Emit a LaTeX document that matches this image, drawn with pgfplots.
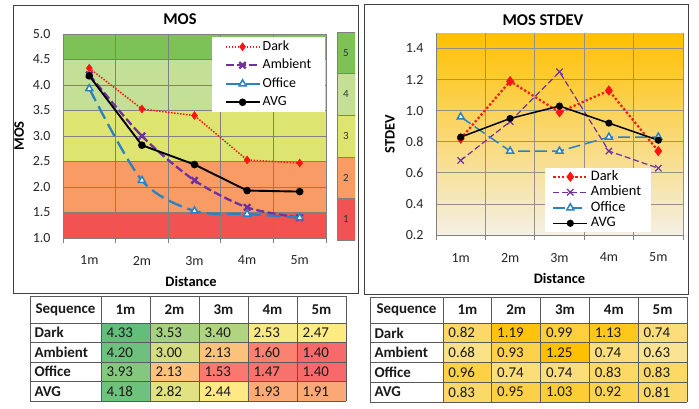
\documentclass[border=0pt]{standalone}
\usepackage{fontspec}
\setmainfont{Carlito}
\usepackage{pgfplots}
\usepackage{pgfplotstable}
\pgfplotsset{compat=1.18}

% MOS per distance (1m..5m) and sequence
\pgfplotstableread{
c dark ambient office avg
1 4.33 4.20 3.93 4.18
2 3.53 3.00 2.13 2.82
3 3.40 2.13 1.53 2.44
4 2.53 1.60 1.47 1.93
5 2.47 1.40 1.40 1.91
}\mosw

% MOS standard deviation per distance and sequence
\pgfplotstableread{
c dark ambient office avg
1 0.82 0.68 0.96 0.83
2 1.19 0.93 0.74 0.95
3 0.99 1.25 0.74 1.03
4 1.13 0.74 0.83 0.92
5 0.74 0.63 0.83 0.81
}\sdw

% the same values by cell for the tables (c = column, r = row: Dark, Ambient, Office, AVG)
\pgfplotstableread{
c r v
1 1 4.33
2 1 3.53
3 1 3.40
4 1 2.53
5 1 2.47
1 2 4.20
2 2 3.00
3 2 2.13
4 2 1.60
5 2 1.40
1 3 3.93
2 3 2.13
3 3 1.53
4 3 1.47
5 3 1.40
1 4 4.18
2 4 2.82
3 4 2.44
4 4 1.93
5 4 1.91
}\mostab

\pgfplotstableread{
c r v
1 1 0.82
2 1 1.19
3 1 0.99
4 1 1.13
5 1 0.74
1 2 0.68
2 2 0.93
3 2 1.25
4 2 0.74
5 2 0.63
1 3 0.96
2 3 0.74
3 3 0.74
4 3 0.83
5 3 0.83
1 4 0.83
2 4 0.95
3 4 1.03
4 4 0.92
5 4 0.81
}\sdtab

\definecolor{cDark}{RGB}{250,20,20}
\definecolor{cAmb}{RGB}{112,48,160}
\definecolor{cOff}{RGB}{40,130,195}
\definecolor{bandA}{RGB}{242,82,82}
\definecolor{bandB}{RGB}{248,155,100}
\definecolor{bandC}{RGB}{222,228,112}
\definecolor{bandD}{RGB}{196,224,150}
\definecolor{bandE}{RGB}{124,194,86}
\definecolor{gridc}{RGB}{128,128,128}
\definecolor{gridr}{RGB}{150,145,135}
\definecolor{framec}{RGB}{64,64,64}
\definecolor{tabline}{RGB}{90,90,90}

\pgfplotsset{
  chart/.style={
    scale only axis,
    xmin=0.5, xmax=5.5,
    xtick={1,2,3,4,5},
    xticklabels={1m,2m,3m,4m,5m},
    minor xtick={0.5,1.5,2.5,3.5,4.5,5.5},
    xminorgrids=true, xmajorgrids=false, ymajorgrids=true,
    axis lines*=left,
    axis line style={draw=gridc, line width=0.8pt, -},
    tick align=outside,
    major tick length=0pt,
    minor tick length=5bp,
    tick style={draw=gridc, line width=0.8pt},
    grid style={draw=gridc, line width=0.8pt},
    minor grid style={draw=gridc, line width=0.8pt},
    tick label style={font=\fontsize{14}{16}\selectfont, text=black!85},
    /pgf/number format/assume math mode=true,
    y tick label style={/pgf/number format/fixed, /pgf/number format/fixed zerofill,
      /pgf/number format/precision=1, xshift=-9bp},
    x tick label style={yshift=-14.5bp},
    label style={font=\bfseries\fontsize{14.5}{17}\selectfont},
    legend cell align=left,
    legend image code/.code={\draw[mark repeat=2,mark phase=2]
      plot coordinates {(0bp,0bp)(17bp,0bp)(34bp,0bp)};},
  },
  tablecells/.style={
    scale only axis, hide axis,
    xmin=0.5, xmax=5.5, ymin=0.5, ymax=4.5,
  },
  cellvalues/.style={
    draw=none, mark=none, nodes near coords, point meta=explicit symbolic,
    nodes near coords style={anchor=west, xshift=-22.5bp,
      font=\fontsize{15}{17}\selectfont, text=black!90},
  },
}

\begin{document}
\begin{tikzpicture}
\path[use as bounding box] (0bp,0bp) rectangle (699bp,-409bp);
\draw[framec, line width=1bp] (13bp,-5bp) rectangle (358bp,-293bp);
\draw[framec, line width=1bp] (364bp,-4bp) rectangle (688bp,-294bp);

% chart titles
\node[font=\bfseries\fontsize{16.5}{18}\selectfont] at (180bp,-19.5bp) {MOS};
\node[font=\bfseries\fontsize{16.5}{18}\selectfont] at (543bp,-20bp) {MOS STDEV};

% ---------------- MOS chart: score bands behind the plot ----------------
\begin{axis}[scale only axis, hide axis,
  at={(63bp,-238bp)}, anchor=south west, width=263bp, height=204bp,
  xmin=0.5, xmax=5.5, ymin=1, ymax=5]
\addplot[draw=none, fill=bandA] coordinates {(0.5,1)(5.5,1)(5.5,1.5)(0.5,1.5)} -- cycle;
\addplot[draw=none, fill=bandB] coordinates {(0.5,1.5)(5.5,1.5)(5.5,2.5)(0.5,2.5)} -- cycle;
\addplot[draw=none, fill=bandC] coordinates {(0.5,2.5)(5.5,2.5)(5.5,3.5)(0.5,3.5)} -- cycle;
\addplot[draw=none, fill=bandD] coordinates {(0.5,3.5)(5.5,3.5)(5.5,4.5)(0.5,4.5)} -- cycle;
\addplot[draw=none, fill=bandE] coordinates {(0.5,4.5)(5.5,4.5)(5.5,5)(0.5,5)} -- cycle;
\end{axis}

% ---------------- MOS chart ----------------
\begin{axis}[chart,
  at={(63bp,-238bp)}, anchor=south west, width=263bp, height=204bp,
  ymin=1, ymax=5, ytick={1,1.5,2,2.5,3,3.5,4,4.5,5},
  xlabel={Distance}, xlabel style={at={(0.487,-0.215)}, anchor=center},
  ylabel={MOS}, ylabel style={at={(-0.167,0.5)}, anchor=center},
  legend style={at={(0.998,0.985)}, anchor=north east, draw=none, fill=white,
    font=\fontsize{14}{16}\selectfont, inner xsep=12bp, inner ysep=3bp,
    row sep=5.5bp, nodes={inner ysep=0bp, inner xsep=2bp, text height=10bp, text depth=3bp}},
]
\addplot[cDark, line width=1.5bp, dash pattern=on 1.5bp off 1.5bp,
  mark=diamond*, mark size=3.2bp, mark options={solid, fill=cDark}]
  table[x=c, y=dark] {\mosw};
\addlegendentry{Dark}
\addplot[cAmb, line width=2.3bp, dash pattern=on 8bp off 3.5bp, smooth,
  mark=x, mark size=4.5bp, mark options={solid}]
  table[x=c, y=ambient] {\mosw};
\addlegendentry{Ambient}
\addplot[cOff, line width=2.3bp, dash pattern=on 14bp off 6bp, smooth,
  mark=triangle*, mark size=4bp, mark options={solid, fill=white, line width=1.5bp}]
  table[x=c, y=office] {\mosw};
\addlegendentry{Office}
\addplot[black, line width=1.9bp, mark=*, mark size=2.8bp]
  table[x=c, y=avg] {\mosw};
\addlegendentry{AVG}
\end{axis}

% score scale beside the MOS chart
\begin{axis}[at={(337bp,-240bp)}, anchor=south west, scale only axis, hide axis,
  width=18bp, height=208bp, xmin=0, xmax=1, ymin=0.5, ymax=5.5]
\addplot[fill=bandA, draw=gridc] coordinates {(0,0.5)(1,0.5)(1,1.5)(0,1.5)} -- cycle;
\addplot[fill=bandB, draw=gridc] coordinates {(0,1.5)(1,1.5)(1,2.5)(0,2.5)} -- cycle;
\addplot[fill=bandC, draw=gridc] coordinates {(0,2.5)(1,2.5)(1,3.5)(0,3.5)} -- cycle;
\addplot[fill=bandD, draw=gridc] coordinates {(0,3.5)(1,3.5)(1,4.5)(0,4.5)} -- cycle;
\addplot[fill=bandE, draw=gridc] coordinates {(0,4.5)(1,4.5)(1,5.5)(0,5.5)} -- cycle;
\node[font=\fontsize{11}{13}\selectfont, text=black!80] at (axis cs:0.5,1) {1};
\node[font=\fontsize{11}{13}\selectfont, text=black!80] at (axis cs:0.5,2) {2};
\node[font=\fontsize{11}{13}\selectfont, text=black!80] at (axis cs:0.5,3) {3};
\node[font=\fontsize{11}{13}\selectfont, text=black!80] at (axis cs:0.5,4) {4};
\node[font=\fontsize{11}{13}\selectfont, text=black!80] at (axis cs:0.5,5) {5};
\end{axis}

% ---------------- MOS STDEV chart ----------------
\begin{axis}[chart,
  at={(436bp,-235bp)}, anchor=south west, width=247bp, height=202bp,
  ymin=0.2, ymax=1.5, ytick={0.2,0.4,0.6,0.8,1.0,1.2,1.4},
  grid style={draw=gridr, line width=0.8pt},
  minor grid style={draw=gridr, line width=0.8pt},
  axis background/.style={shade, top color={rgb,255:red,255;green,192;blue,0},
    bottom color={rgb,255:red,244;green,240;blue,228}},
  xlabel={Distance}, xlabel style={at={(0.5,-0.215)}, anchor=center},
  ylabel={STDEV}, ylabel style={at={(-0.186,0.5)}, anchor=center},
  legend style={at={(0.87,0.015)}, anchor=south east, draw=none, fill=white,
    font=\fontsize{14.5}{17}\selectfont, inner xsep=7bp, inner ysep=2bp,
    row sep=2.5bp, nodes={inner ysep=0bp, inner xsep=2.5bp, text height=10bp, text depth=3bp}},
]
\addplot[cDark, line width=2.2bp, dash pattern=on 2.2bp off 2.2bp,
  mark=diamond*, mark size=3.4bp, mark options={solid, fill=cDark}]
  table[x=c, y=dark] {\sdw};
\addlegendentry{Dark}
\addplot[cAmb, line width=1.2bp, dash pattern=on 6bp off 3bp,
  mark=x, mark size=4.5bp, mark options={solid}]
  table[x=c, y=ambient] {\sdw};
\addlegendentry{Ambient}
\addplot[cOff, line width=1.5bp, dash pattern=on 12bp off 5bp,
  mark=triangle*, mark size=4bp, mark options={solid, fill=white}]
  table[x=c, y=office] {\sdw};
\addlegendentry{Office}
\addplot[black, line width=1.5bp, mark=*, mark size=2.8bp]
  table[x=c, y=avg] {\sdw};
\addlegendentry{AVG}
\end{axis}

% ---------------- MOS table ----------------
\begin{axis}[tablecells, at={(101bp,-401bp)}, anchor=south west, width=245bp, height=78bp,
  colormap={mosmap}{rgb255(0cm)=(248,105,107) rgb255(1.055cm)=(255,235,132) rgb255(2.93cm)=(99,190,123)},
  point meta min=1.40, point meta max=4.33]
\addplot[matrix plot*, mesh/cols=5, point meta=explicit]
  table[x=c, y expr=5-\thisrow{r}, meta=v] {\mostab};
\addplot[cellvalues] table[x=c, y expr=5-\thisrow{r}, meta=v] {\mostab};
\end{axis}
\foreach \y in {296,323,342.5,362,381.5,401} {
  \draw[tabline, line width=0.9bp] (30bp,-\y bp) -- (346bp,-\y bp);
}
\foreach \x in {30,101,150,199,248,297,346} {
  \draw[tabline, line width=0.9bp] (\x bp,-296bp) -- (\x bp,-401bp);
}
\begin{scope}[every node/.style={font=\bfseries\fontsize{15}{17}\selectfont, text=black!90}]
\node at (65.5bp,-309.5bp) {Sequence};
\foreach \x/\t in {125.5/1m,174.5/2m,223.5/3m,272.5/4m,321.5/5m} {
  \node at (\x bp,-309.5bp) {\t};
}
\foreach \y/\t in {332.75/Dark,352.25/Ambient,371.75/Office,391.25/AVG} {
  \node[anchor=west] at (31bp,-\y bp) {\t};
}
\end{scope}

% ---------------- STDEV table ----------------
\begin{axis}[tablecells, at={(443bp,-402bp)}, anchor=south west, width=244bp, height=79bp,
  colormap={sdmap}{rgb255(0cm)=(250,228,148) rgb255(1cm)=(255,192,0)},
  point meta min=0.63, point meta max=1.25]
\addplot[matrix plot*, mesh/cols=5, point meta=explicit]
  table[x=c, y expr=5-\thisrow{r}, meta=v] {\sdtab};
\addplot[cellvalues] table[x=c, y expr=5-\thisrow{r}, meta=v] {\sdtab};
\end{axis}
\foreach \y in {297,323,342.75,362.5,382.25,402} {
  \draw[tabline, line width=0.9bp] (370bp,-\y bp) -- (687bp,-\y bp);
}
\foreach \x in {370,443,491.8,540.6,589.4,638.2,687} {
  \draw[tabline, line width=0.9bp] (\x bp,-297bp) -- (\x bp,-402bp);
}
\begin{scope}[every node/.style={font=\bfseries\fontsize{15}{17}\selectfont, text=black!90}]
\node at (406.5bp,-310bp) {Sequence};
\foreach \x/\t in {467.4/1m,516.2/2m,565/3m,613.8/4m,662.6/5m} {
  \node at (\x bp,-310bp) {\t};
}
\foreach \y/\t in {332.9/Dark,352.6/Ambient,372.4/Office,392.1/AVG} {
  \node[anchor=west] at (371bp,-\y bp) {\t};
}
\end{scope}
\end{tikzpicture}
\end{document}
